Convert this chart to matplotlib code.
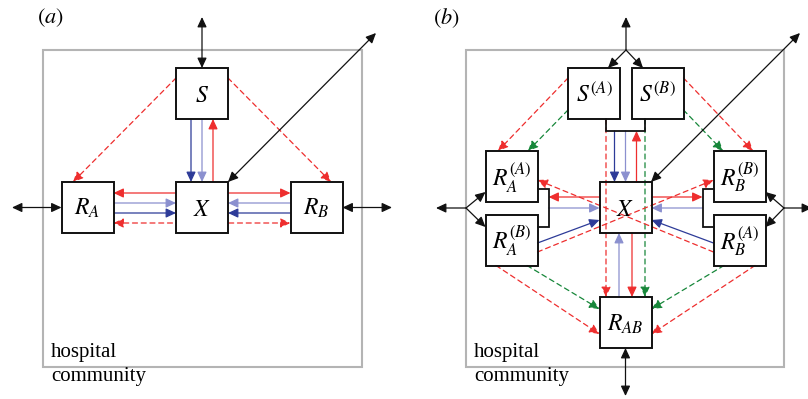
import matplotlib
matplotlib.use('Agg')
import matplotlib.pyplot as plt
from matplotlib.patches import FancyArrowPatch, Rectangle

plt.rcParams['mathtext.fontset'] = 'stix'

RED = '#ee2e2e'; DKBLUE = '#2d3b98'; LTBLUE = '#8b90cf'; GREEN = '#17873a'
BLACK = '#111111'; GREY = '#b4b4b4'; SERIF = 'Liberation Serif'
BW, BH = 52, 51

# compartment boxes: name -> label
NODES_A = {'S': r'$S$', 'X': r'$X$', 'RA': r'$R_A$', 'RB': r'$R_B$'}
NODES_B = {'SA': r'$S^{(A)}$', 'SB': r'$S^{(B)}$', 'X': r'$X$',
           'RAA': r'$R_A^{(A)}$', 'RAB': r'$R_A^{(B)}$',
           'RBB': r'$R_B^{(B)}$', 'RBA': r'$R_B^{(A)}$', 'RAB2': r'$R_{AB}$'}

# layout (box centres, figure pixels)
POS_A = {'S': (202, 93.5), 'X': (202, 207.5), 'RA': (87.5, 207.5), 'RB': (316.5, 207.5)}
POS_B = {'SA': (594, 93.5), 'SB': (657.5, 93.5), 'X': (625.5, 207.5),
         'RAA': (511.5, 176.5), 'RAB': (511.5, 240), 'RBB': (739.5, 176.5),
         'RBA': (739.5, 240), 'RAB2': (625.5, 322.5)}

# transitions: (from box, side, offset, to box, side, offset, colour, dashed, two-way)
EDGES_A = [
    ('S', 'b', -11, 'X', 't', -11, DKBLUE, False, False),
    ('S', 'b', 0, 'X', 't', 0, LTBLUE, False, False),
    ('X', 't', 11, 'S', 'b', 11, RED, False, False),
    ('S', 'l', -15.5, 'RA', 't', -14.5, RED, True, False),
    ('S', 'r', -15.5, 'RB', 't', 14.5, RED, True, False),
    ('X', 'l', -14.5, 'RA', 'r', -14.5, RED, False, False),
    ('RA', 'r', -4.5, 'X', 'l', -4.5, LTBLUE, False, False),
    ('RA', 'r', 5.5, 'X', 'l', 5.5, DKBLUE, False, False),
    ('RA', 'r', 15.5, 'RB', 'l', 15.5, RED, True, True),
    ('X', 'r', -14.5, 'RB', 'l', -14.5, RED, False, False),
    ('RB', 'l', -4.5, 'X', 'r', -4.5, LTBLUE, False, False),
    ('RB', 'l', 5.5, 'X', 'r', 5.5, DKBLUE, False, False),
]

EDGES_B = [
    ('SA', 'b', 12, 'RAB2', 't', -19.5, RED, True, False),
    ('SB', 'b', -12.5, 'RAB2', 't', 19.5, GREEN, True, False),
    ('SA', 'l', -15.5, 'RAA', 't', -13.5, RED, True, False),
    ('SA', 'l', 16.5, 'RAA', 't', 16.5, GREEN, True, False),
    ('SB', 'r', -15.5, 'RBB', 't', 13.5, RED, True, False),
    ('SB', 'r', 16.5, 'RBB', 't', -16.5, GREEN, True, False),
    ('RAB', 'r', 12, 'RBB', 'l', 3.5, RED, True, False),
    ('RBA', 'l', 12, 'RAA', 'r', 3.5, RED, True, False),
    ('RAB', 'r', 3, 'X', 'l', 12.5, DKBLUE, False, False),
    ('RBA', 'l', 3, 'X', 'r', 12.5, DKBLUE, False, False),
    ('RAB', 'b', -15.5, 'RAB2', 'l', 11.5, RED, True, False),
    ('RAB', 'b', 15.5, 'RAB2', 'l', -13.5, GREEN, True, False),
    ('RBA', 'b', 15.5, 'RAB2', 'r', 11.5, RED, True, False),
    ('RBA', 'b', -15.5, 'RAB2', 'r', -13.5, GREEN, True, False),
    ('RAB2', 't', -6.5, 'X', 'b', -6.5, LTBLUE, False, False),
    ('X', 'b', 6.5, 'RAB2', 't', 6.5, RED, False, False),
]


def anchor(pos, box, side, off=0):
    cx, cy = pos[box]
    if side == 't':
        return (cx + off, cy - BH / 2)
    if side == 'b':
        return (cx + off, cy + BH / 2)
    if side == 'l':
        return (cx - BW / 2, cy + off)
    return (cx + BW / 2, cy + off)


def arrow(ax, p, q, color, dashed=False, both=False, lw=0.9):
    style = '<|-|>' if both else '-|>'
    ax.add_patch(FancyArrowPatch(p, q, arrowstyle=f'{style},head_length=0.6,head_width=0.28',
                                 mutation_scale=10, color=color, lw=lw,
                                 linestyle=(0, (4, 3)) if dashed else '-',
                                 shrinkA=0, shrinkB=0, zorder=2))


def line(ax, pts, color=BLACK, lw=1.3):
    ax.plot([p[0] for p in pts], [p[1] for p in pts], color=color, lw=lw,
            solid_joinstyle='miter', zorder=3)


def boxes(ax, pos, nodes, fill=True):
    for k, lbl in nodes.items():
        cx, cy = pos[k]
        ax.add_patch(Rectangle((cx - BW / 2, cy - BH / 2), BW, BH, lw=1.4, ec=BLACK,
                               fc='white' if fill else 'none', zorder=4))
        ax.text(cx, cy + 1, lbl, ha='center', va='center', fontsize=17, zorder=5)


def edges(ax, pos, elist):
    for a, sa, oa, b, sb, ob, col, dash, both in elist:
        arrow(ax, anchor(pos, a, sa, oa), anchor(pos, b, sb, ob), col, dash, both)


fig = plt.figure(figsize=(8.08, 3.99), dpi=100, facecolor='white')
ax = fig.add_axes([0, 0, 1, 1])
ax.set_xlim(0, 808); ax.set_ylim(399, 0); ax.axis('off')

# ---- panel (a)
ax.add_patch(Rectangle((43, 50), 319, 317, lw=1.5, ec=GREY, fc='none', zorder=1))
edges(ax, POS_A, EDGES_A)
boxes(ax, POS_A, NODES_A)
arrow(ax, (202, 17), anchor(POS_A, 'S', 't'), BLACK, both=True)
arrow(ax, (228, 182), (376, 33), BLACK, both=True)
arrow(ax, (12, 207.5), anchor(POS_A, 'RA', 'l'), BLACK, both=True)
arrow(ax, anchor(POS_A, 'RB', 'r'), (392, 207.5), BLACK, both=True)
ax.text(37, 18, r'$(\mathit{a})$', fontsize=16, va='center')
ax.text(51, 352, 'hospital', family=SERIF, fontsize=15, va='center')
ax.text(51, 377, 'community', family=SERIF, fontsize=15, va='center')

# ---- panel (b)
ax.add_patch(Rectangle((466, 50), 318, 317, lw=1.5, ec=GREY, fc='none', zorder=1))
edges(ax, POS_B, EDGES_B)
# S bracket and flows to X
bx = [anchor(POS_B, 'SA', 'b', 12), anchor(POS_B, 'SB', 'b', -12.5)]
yb = bx[0][1] + 12
line(ax, [bx[0], (bx[0][0], yb), (bx[1][0], yb), bx[1]])
xc = POS_B['X'][0]
xt = anchor(POS_B, 'X', 't')[1]
arrow(ax, (xc - 11, yb), (xc - 11, xt), DKBLUE)
arrow(ax, (xc, yb), (xc, xt), LTBLUE)
arrow(ax, (xc + 11, xt), (xc + 11, yb), RED)
# R_A and R_B brackets
for top, bot, s, d in [('RAA', 'RAB', 'r', 1), ('RBB', 'RBA', 'l', -1)]:
    p1 = anchor(POS_B, top, s, 12.5)
    p2 = anchor(POS_B, bot, s, -13)
    xb = p1[0] + 11 * d
    line(ax, [p1, (xb, p1[1]), (xb, p2[1]), p2])
    xs = 'l' if s == 'r' else 'r'
    xe = anchor(POS_B, 'X', xs, -10.5)
    arrow(ax, xe, (xb, xe[1]), RED)
    xe = anchor(POS_B, 'X', xs, 0.5)
    arrow(ax, (xb, xe[1]), xe, LTBLUE)
# migration in/out of the hospital
jt = (626, 50)
arrow(ax, jt, (626, 17), BLACK)
arrow(ax, jt, anchor(POS_B, 'SA', 't', 14), BLACK)
arrow(ax, jt, anchor(POS_B, 'SB', 't', -14.5), BLACK)
jl = (466, 208)
arrow(ax, jl, (436, 208), BLACK)
arrow(ax, jl, anchor(POS_B, 'RAA', 'l', 15.5), BLACK)
arrow(ax, jl, anchor(POS_B, 'RAB', 'l', -13), BLACK)
jr = (784, 208)
arrow(ax, jr, (812, 208), BLACK)
arrow(ax, jr, anchor(POS_B, 'RBB', 'r', 15.5), BLACK)
arrow(ax, jr, anchor(POS_B, 'RBA', 'r', -13), BLACK)
arrow(ax, anchor(POS_B, 'RAB2', 'b'), (625.5, 396), BLACK, both=True)
arrow(ax, anchor(POS_B, 'X', 't', 25.5), (800, 33), BLACK, both=True)
boxes(ax, POS_B, NODES_B, fill=False)
ax.text(433, 18, r'$(\mathit{b})$', fontsize=16, va='center')
ax.text(474, 352, 'hospital', family=SERIF, fontsize=15, va='center')
ax.text(474, 377, 'community', family=SERIF, fontsize=15, va='center')

fig.savefig('out.png', dpi=100, facecolor='white')
